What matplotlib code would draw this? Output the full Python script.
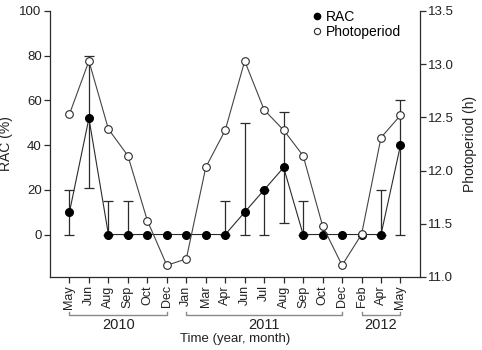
import matplotlib
matplotlib.use("Agg")
import matplotlib.pyplot as plt
import matplotlib.transforms as mtransforms
from matplotlib.lines import Line2D
import numpy as np

plt.rcParams['font.family'] = ['Liberation Sans', 'DejaVu Sans']

months = ['May', 'Jun', 'Aug', 'Sep', 'Oct', 'Dec',
          'Jan', 'Mar', 'Apr', 'Jun', 'Jul', 'Aug', 'Sep', 'Oct', 'Dec',
          'Feb', 'Apr', 'May']
rac = [10, 52, 0, 0, 0, 0, 0, 0, 0, 10, 20, 30, 0, 0, 0, 0, 0, 40]
rac_lo = [0, 21, 0, 0, 0, 0, 0, 0, 0, 0, 0, 5, 0, 0, 0, 0, 0, 0]
rac_hi = [20, 80, 15, 15, 0, 0, 0, 0, 15, 50, 20, 55, 15, 0, 0, 0, 20, 60]
photo = [12.53, 13.03, 12.39, 12.14, 11.53, 11.11,
         11.17, 12.03, 12.38, 13.03, 12.57, 12.38, 12.14, 11.48, 11.11,
         11.40, 12.31, 12.52]
years = ['2010', '2011', '2012']
year_span = [(0, 5), (6, 14), (15, 17)]

lc = '#2b2b2b'
fs = 9.5

x = np.arange(len(months))
rac = np.array(rac)
lo = rac - np.array(rac_lo)
hi = np.array(rac_hi) - rac
has_err = (lo > 0) | (hi > 0)

fig = plt.figure(figsize=(4.82, 3.5), dpi=100)
ax = fig.add_axes([0.1037, 0.2086, 0.7676, 0.76])
ax2 = ax.twinx()

ax.plot(x, rac, '-o', color=lc, lw=0.8, ms=5.5, mfc='black', mec='black', zorder=3)
ax.errorbar(x[has_err], rac[has_err], yerr=[lo[has_err], hi[has_err]], fmt='none',
            ecolor=lc, elinewidth=0.9, capsize=3.5, capthick=0.9, zorder=2)
ax2.plot(x, photo, '-o', color='#444444', lw=0.8, ms=5.5, mfc='white', mec=lc, mew=0.8)

ax.set_xlim(-1, 18)
ax.set_ylim(-19, 100)
ax2.set_ylim(11.0, 13.5)
ax.set_yticks([0, 20, 40, 60, 80, 100])
ax2.set_yticks([11.0, 11.5, 12.0, 12.5, 13.0, 13.5])
ax2.set_yticklabels(['11.0', '11.5', '12.0', '12.5', '13.0', '13.5'])
ax.set_xticks(x)

for a in (ax, ax2):
    a.spines['top'].set_visible(False)
    for s in a.spines.values():
        s.set_color(lc)
        s.set_linewidth(0.9)
    a.tick_params(colors=lc, labelcolor='#222222', labelsize=fs, width=0.9, length=4, pad=2)
ax.spines['right'].set_visible(False)
ax2.spines['left'].set_visible(False)
ax2.spines['bottom'].set_visible(False)
ax.set_xticklabels(months, rotation=90, fontsize=9)

ax.set_ylabel('RAC (%)', fontsize=fs + 0.5, color='#222222')
ax2.set_ylabel('Photoperiod (h)', fontsize=fs + 0.5, color='#222222')
ax.yaxis.set_label_coords(-0.1, 0.5)
ax2.yaxis.set_label_coords(1.115, 0.5)

# year brackets under the month labels
tr = mtransforms.blended_transform_factory(ax.transData, ax.transAxes)
yb = -0.142
for yr, (a0, a1) in zip(years, year_span):
    ax.plot([a0, a0, a1, a1], [yb + 0.012, yb, yb, yb + 0.012], color='#8a8a8a',
            lw=1.0, transform=tr, clip_on=False)
    ax.text((a0 + a1) / 2, yb - 0.012, yr, transform=tr, ha='center', va='top',
            fontsize=fs + 1, color='#222222')
ax.text(0.5 * 17, -0.21, 'Time (year, month)', transform=tr, ha='center', va='top',
        fontsize=fs, color='#222222')

handles = [Line2D([], [], ls='none', marker='o', ms=4.5, mfc='black', mec='black'),
           Line2D([], [], ls='none', marker='o', ms=4.5, mfc='white', mec=lc, mew=0.8)]
fig.legend(handles, ['RAC', 'Photoperiod'], loc='upper left',
           bbox_to_anchor=(0.632, 0.995), frameon=False, fontsize=fs + 0.5,
           handlelength=0.6, handletextpad=0.3, labelspacing=0.05, borderpad=0.1)

fig.savefig('out.png', dpi=100)
